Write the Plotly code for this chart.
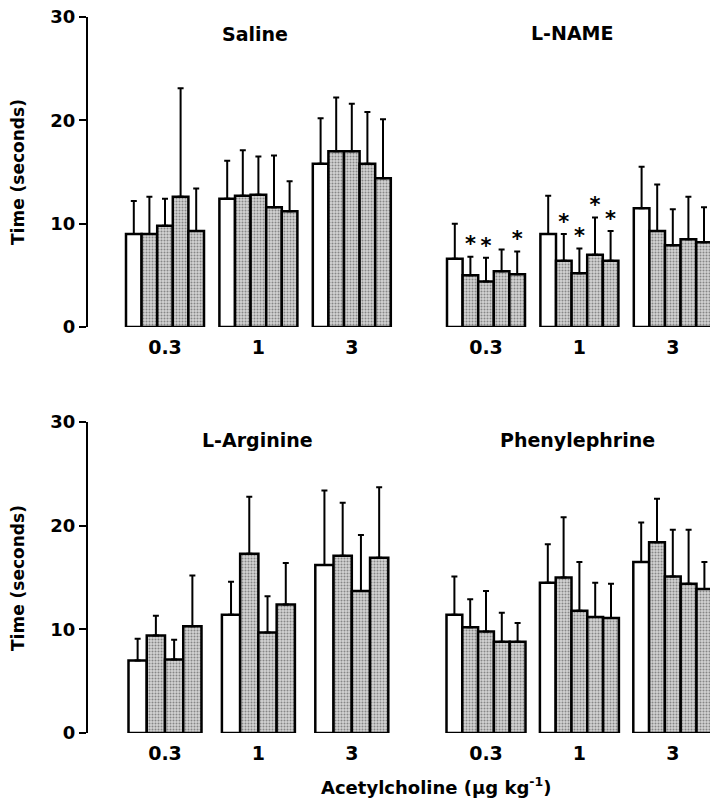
import plotly.graph_objects as go
from plotly.subplots import make_subplots

# Acetylcholine doses (µg/kg) shown under each cluster of bars
doses = ["0.3", "1", "3"]

# Mean response time (s) per dose; the first bar of each cluster is the control
saline_mean = [[9.0, 9.0, 9.8, 12.6, 9.3],
               [12.4, 12.7, 12.8, 11.6, 11.2],
               [15.8, 17.0, 17.0, 15.8, 14.4]]
saline_sem = [[3.2, 3.6, 2.6, 10.5, 4.1],
              [3.7, 4.4, 3.7, 5.0, 2.9],
              [4.4, 5.2, 4.6, 5.0, 5.7]]

lname_mean = [[6.6, 5.0, 4.4, 5.4, 5.1],
              [9.0, 6.4, 5.2, 7.0, 6.4],
              [11.5, 9.3, 7.9, 8.5, 8.2]]
lname_sem = [[3.4, 1.8, 2.3, 2.1, 2.2],
             [3.7, 2.6, 2.4, 3.6, 2.9],
             [4.0, 4.5, 3.5, 4.1, 3.4]]
# significant difference from control (P < 0.05)
lname_sig = [[0, 1, 1, 0, 1],
             [0, 1, 1, 1, 1],
             [0, 0, 0, 0, 0]]

larg_mean = [[7.0, 9.4, 7.1, 10.3],
             [11.4, 17.3, 9.7, 12.4],
             [16.2, 17.1, 13.7, 16.9]]
larg_sem = [[2.1, 1.9, 1.9, 4.9],
            [3.2, 5.5, 3.5, 4.0],
            [7.2, 5.1, 5.4, 6.8]]

phe_mean = [[11.4, 10.2, 9.8, 8.8, 8.8],
            [14.5, 15.0, 11.8, 11.2, 11.1],
            [16.5, 18.4, 15.1, 14.4, 13.9]]
phe_sem = [[3.7, 2.7, 3.9, 2.8, 1.8],
           [3.7, 5.8, 4.7, 3.3, 3.3],
           [3.8, 4.2, 4.5, 5.2, 2.6]]

W, H = 710, 801
FONT = "DejaVu Sans"

fig = make_subplots(rows=2, cols=2)


def add_panel(means, sems, row, col, bar_w, sig=None):
    n_groups = len(means)
    n_bars = len(means[0])
    xs = list(range(n_groups))
    for i in range(n_bars):
        vals = [means[g][i] for g in range(n_groups)]
        errs = [sems[g][i] for g in range(n_groups)]
        offset = -n_bars * bar_w / 2 + i * bar_w
        if i == 0:
            marker = dict(color="white", line=dict(color="black", width=2.5))
        else:
            marker = dict(color="#c8c8c8",
                          line=dict(color="black", width=2.5),
                          pattern=dict(shape=".", fgcolor="#3a3a3a",
                                       bgcolor="#d2d2d2", size=3,
                                       solidity=0.35, fillmode="overlay"))
        fig.add_trace(go.Bar(
            x=xs, y=vals, width=bar_w, offset=offset, marker=marker,
            error_y=dict(type="data", symmetric=False, array=errs,
                         arrayminus=[0] * n_groups, color="black",
                         thickness=2, width=3),
            showlegend=False), row=row, col=col)
        if sig is not None:
            sx, sy = [], []
            for g in range(n_groups):
                if sig[g][i]:
                    sx.append(g + offset + bar_w / 2)
                    sy.append(vals[g] + errs[g])
            if sx:
                fig.add_trace(go.Scatter(
                    x=sx, y=sy, mode="text", text=["*"] * len(sx),
                    textposition="top center",
                    textfont=dict(family=FONT, size=21, color="black",
                                  weight="bold"),
                    showlegend=False, hoverinfo="skip"), row=row, col=col)


PX_PER_GROUP = 93.4
add_panel(saline_mean, saline_sem, 1, 1, 15.6 / PX_PER_GROUP)
add_panel(lname_mean, lname_sem, 1, 2, 15.6 / PX_PER_GROUP, sig=lname_sig)
add_panel(larg_mean, larg_sem, 2, 1, 18.25 / PX_PER_GROUP)
add_panel(phe_mean, phe_sem, 2, 2, 15.8 / PX_PER_GROUP)


def xspan(px_left, px_right, px_center0):
    return [(px_left - px_center0) / PX_PER_GROUP,
            (px_right - px_center0) / PX_PER_GROUP]


tickfont_x = dict(family=FONT, size=19, color="black", weight="bold")
tickfont_y = dict(family=FONT, size=18, color="black", weight="bold")

x_common = dict(showline=False, ticks="", showgrid=False, zeroline=False,
                tickvals=[0, 1, 2], ticktext=doses, tickfont=tickfont_x,
                ticklabelstandoff=7, fixedrange=True, automargin=False)

left_dom = [88 / W, 415 / W]
right_dom = [420 / W, 1.0]
top_dom = [1 - 327 / H, 1 - 17 / H]
bot_dom = [1 - 733 / H, 1 - 422 / H]

fig.update_xaxes(**x_common)
fig.update_xaxes(domain=left_dom, range=xspan(88, 415, 165), row=1, col=1)
fig.update_xaxes(domain=right_dom, range=xspan(420, 710, 486), row=1, col=2)
fig.update_xaxes(domain=left_dom, range=xspan(88, 415, 165), row=2, col=1)
fig.update_xaxes(domain=right_dom, range=xspan(420, 710, 486), row=2, col=2)

y_left = dict(range=[0, 30], showline=True, linecolor="black", linewidth=2,
              ticks="outside", ticklen=7, tickwidth=2, tickcolor="black",
              tickvals=[0, 10, 20, 30], tickfont=tickfont_y, showgrid=False,
              zeroline=False, fixedrange=True, automargin=False)
y_right = dict(range=[0, 30], visible=False, fixedrange=True,
               automargin=False)

fig.update_yaxes(domain=top_dom, row=1, col=1, **y_left)
fig.update_yaxes(domain=top_dom, row=1, col=2, **y_right)
fig.update_yaxes(domain=bot_dom, row=2, col=1, **y_left)
fig.update_yaxes(domain=bot_dom, row=2, col=2, **y_right)

title_font = dict(family=FONT, size=19, color="black", weight="bold")
annotations = [
    dict(text="Saline", x=255 / W, y=1 - 34 / H),
    dict(text="L-NAME", x=217 / W + 0.5, y=1 - 33 / H),
    dict(text="L-Arginine", x=257 / W, y=1 - 440 / H),
    dict(text="Phenylephrine", x=577 / W, y=1 - 440 / H),
]
for a in annotations:
    fig.add_annotation(xref="paper", yref="paper", showarrow=False,
                       xanchor="center", yanchor="middle", font=title_font, **a)

for yc in (172, 578):
    fig.add_annotation(text="Time (seconds)", xref="paper", yref="paper",
                       x=18 / W, y=1 - yc / H, textangle=-90, showarrow=False,
                       xanchor="center", yanchor="middle",
                       font=dict(family=FONT, size=17, color="black",
                                 weight="bold"))

fig.add_annotation(text="Acetylcholine (µg kg<sup>-1</sup>)", xref="paper",
                   yref="paper", x=437 / W, y=1 - 786 / H, showarrow=False,
                   xanchor="center", yanchor="middle",
                   font=dict(family=FONT, size=18, color="black",
                             weight="bold"))

fig.update_layout(width=W, height=H, margin=dict(l=0, r=0, t=0, b=0),
                  paper_bgcolor="white", plot_bgcolor="white",
                  barmode="overlay", showlegend=False)

fig.write_html("out.html")
